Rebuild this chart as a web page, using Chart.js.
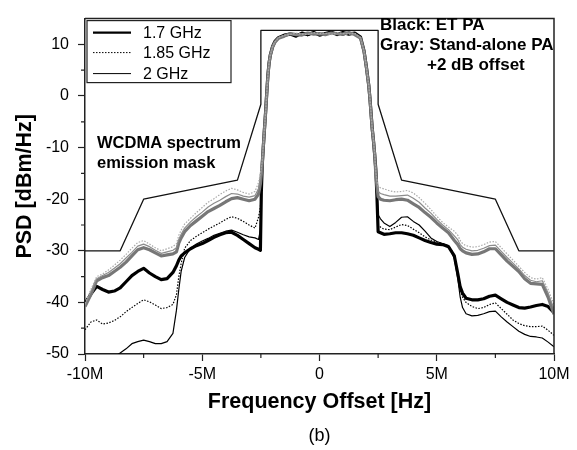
<!DOCTYPE html>
<html>
<head>
<meta charset="utf-8">
<script src="https://cdn.jsdelivr.net/npm/chart.js@4/dist/chart.umd.min.js"></script>
<style>
html,body{margin:0;padding:0;background:#fff;}
#wrap{width:577px;height:450px;}
</style>
</head>
<body>
<div id="wrap"><canvas id="c" width="577" height="450"></canvas></div>
<script>
// Frequency offset in MHz
const freq = [-10,-9.75,-9.5,-9.25,-9,-8.75,-8.5,-8.25,-8,-7.75,-7.5,-7.25,-7,-6.75,-6.5,-6.25,
  -6.1,-6,-5.9,
  -5.75,-5.5,-5.25,-5,-4.75,-4.5,-4.25,-4,-3.75,-3.5,-3.25,-3,-2.75,
  -2.6,-2.52,-2.48,-2.44,-2.4,-2.35,-2.3,-2.25,-2.2,-2.15,-2.1,
  -2,-1.9,
  -1.75,-1.5,-1.25,-1,-0.75,-0.5,-0.25,0,0.25,0.5,0.75,1,1.25,1.5,1.75,
  1.9,2,2.1,2.15,2.2,2.25,2.3,2.35,2.4,2.45,2.5,2.6,
  2.75,3,3.25,3.5,3.75,4,4.25,4.5,4.75,5,5.25,5.5,5.75,
  5.9,6,6.1,
  6.25,6.5,6.75,7,7.25,7.5,7.75,8,8.25,8.5,8.75,9,9.25,9.5,9.75,10];

// ET PA (black), PSD in dBm/Hz
const et17 = [-40.2,-38.4,-36.9,-37.5,-38.0,-37.8,-37.2,-36.0,-34.8,-34.0,-33.4,-34.3,-35.0,-35.6,-35.4,-34.2,
  -32.9,-31.8,-31.0,
  -30.4,-29.6,-29.0,-28.6,-28.0,-27.4,-26.9,-26.5,-26.4,-27.0,-27.8,-28.6,-29.4,
  -29.7,-29.9,-18.5,-13.2,-10.2,-6.6,-3.2,0.6,4.1,6.4,7.9,
  9.6,10.6,
  11.3,11.8,12.0,11.6,12.2,11.9,12.3,11.8,12.1,12.4,11.9,12.3,12.0,12.2,11.4,
  8.7,5.6,2.1,-0.4,-3.4,-6.4,-8.6,-11.2,-14.1,-19.5,-26.3,-26.5,
  -26.8,-26.7,-26.5,-26.5,-26.7,-27.0,-27.5,-28.0,-28.4,-28.7,-28.8,-29.2,-31.0,
  -34.5,-37.0,-38.2,
  -39.2,-39.5,-39.5,-39.3,-38.8,-38.6,-39.3,-40.0,-40.5,-41.0,-41.1,-40.9,-40.6,-40.4,-40.8,-42.0];

const et185 = [-45.3,-43.8,-43.4,-44.2,-44.0,-43.5,-42.8,-41.8,-41.0,-40.2,-39.5,-39.9,-40.5,-41.2,-41.0,-40.4,
  -38.5,-35.0,-32.5,
  -29.5,-28.0,-27.2,-26.5,-25.8,-25.2,-24.6,-23.9,-23.4,-23.7,-24.3,-25.0,-25.6,
  -23.5,-21.5,-18.2,-13.0,-10.1,-6.4,-3.4,0.4,4.0,6.6,7.8,
  9.5,10.5,
  11.4,11.7,12.1,11.8,12.0,12.2,12.1,11.9,12.3,12.1,12.0,12.2,12.1,11.9,11.3,
  8.6,5.5,2.0,-0.5,-3.5,-6.5,-8.5,-11.0,-14.0,-19.0,-25.0,-25.4,
  -25.8,-25.9,-25.4,-24.9,-25.1,-25.8,-26.5,-27.3,-27.9,-28.3,-28.6,-29.0,-30.8,
  -34.5,-37.5,-39.0,
  -40.0,-40.8,-41.2,-41.0,-40.4,-40.1,-41.2,-42.3,-43.4,-44.1,-44.5,-44.7,-44.7,-44.6,-45.4,-46.4];

const et20 = [-54.0,-53.5,-53.0,-52.4,-51.6,-50.6,-49.8,-49.0,-48.0,-47.6,-47.3,-47.6,-48.0,-48.0,-47.6,-46.0,
  -41.5,-37.5,-34.0,
  -31.3,-29.5,-28.7,-28.1,-27.6,-27.0,-26.6,-26.2,-26.0,-26.4,-26.9,-27.3,-27.5,
  -27.8,-26.0,-18.0,-13.1,-10.0,-6.5,-3.3,0.5,3.9,6.5,7.8,
  9.4,10.5,
  11.2,11.9,11.8,12.0,12.1,11.7,12.2,12.0,11.9,12.3,12.1,11.8,12.2,12.0,11.2,
  8.5,5.4,2.0,-0.6,-3.6,-6.6,-8.6,-11.1,-14.0,-18.5,-23.0,-23.8,
  -24.6,-25.3,-24.5,-23.5,-23.4,-24.3,-25.0,-26.2,-27.5,-28.2,-28.6,-29.0,-31.5,
  -35.5,-39.0,-41.0,
  -42.2,-42.6,-42.5,-42.2,-41.8,-41.7,-42.8,-43.8,-44.7,-45.6,-46.2,-46.6,-46.7,-46.9,-47.7,-48.6];

// Stand-alone PA +2 dB offset (gray)
const sa17 = [-40.8,-38.5,-35.8,-35.2,-34.8,-34.0,-33.2,-32.2,-31.0,-29.8,-29.4,-29.8,-30.4,-31.0,-30.8,-30.6,
  -30.2,-28.5,-27.5,
  -26.3,-25.1,-24.2,-23.3,-22.4,-21.8,-21.2,-20.5,-19.9,-19.7,-20.0,-20.3,-20.0,
  -19.0,-17.0,-15.2,-13.0,-10.0,-6.6,-3.4,0.4,3.9,6.4,7.8,
  9.5,10.4,
  11.2,11.6,12.1,11.9,11.8,12.2,12.0,12.1,11.9,12.2,12.1,12.0,12.3,11.9,11.2,
  8.6,5.5,2.0,-0.5,-3.5,-6.5,-8.6,-11.1,-15.0,-17.5,-19.5,-20.0,
  -20.2,-20.3,-20.1,-20.0,-20.2,-20.9,-21.6,-22.6,-23.5,-24.6,-25.6,-26.5,-28.0,
  -28.8,-29.6,-30.0,
  -30.4,-30.7,-30.6,-30.2,-29.6,-29.6,-30.8,-32.0,-33.0,-34.0,-35.4,-36.3,-36.4,-36.5,-39.0,-42.3];

const sa185 = [-40.2,-37.5,-35.0,-34.5,-33.7,-32.8,-31.8,-30.7,-29.5,-28.4,-28.0,-28.7,-29.4,-30.0,-29.6,-29.2,
  -28.6,-27.0,-26.0,
  -24.8,-23.7,-22.6,-21.6,-20.6,-19.9,-19.1,-18.4,-17.9,-18.2,-18.7,-19.0,-18.5,
  -16.8,-15.0,-14.0,-12.5,-9.8,-6.4,-3.2,0.6,4.0,6.5,7.9,
  9.6,10.5,
  11.3,11.8,11.9,12.2,12.0,11.9,12.3,12.1,12.2,11.9,12.3,12.1,12.0,12.2,11.3,
  8.7,5.6,2.1,-0.4,-3.4,-6.4,-8.5,-11.0,-14.6,-16.5,-17.5,-17.8,
  -18.0,-18.4,-18.6,-18.5,-18.3,-18.8,-19.7,-20.8,-22.0,-23.3,-24.5,-25.4,-26.2,
  -27.0,-28.0,-28.6,
  -29.0,-29.3,-29.2,-28.8,-28.3,-28.2,-29.4,-30.6,-31.8,-33.0,-34.2,-35.2,-35.5,-35.2,-37.5,-40.4];

const sa20 = [-40.5,-37.9,-35.4,-34.8,-34.2,-33.4,-32.5,-31.4,-30.3,-29.1,-28.7,-29.2,-29.9,-30.5,-30.2,-29.9,
  -29.4,-27.8,-26.8,
  -25.6,-24.4,-23.4,-22.5,-21.5,-20.8,-20.2,-19.5,-18.9,-19.0,-19.4,-19.6,-19.3,
  -18.0,-16.0,-14.6,-12.8,-9.9,-6.5,-3.3,0.5,3.9,6.4,7.8,
  9.5,10.5,
  11.3,11.7,12.0,11.8,12.1,12.0,12.2,11.9,12.1,12.2,12.0,12.1,12.2,12.0,11.2,
  8.6,5.5,2.0,-0.5,-3.5,-6.5,-8.5,-11.0,-14.8,-17.0,-18.5,-18.9,
  -19.1,-19.4,-19.4,-19.3,-19.2,-19.8,-20.6,-21.7,-22.7,-23.9,-25.0,-25.9,-27.1,
  -27.9,-28.8,-29.3,
  -29.7,-30.0,-29.9,-29.5,-29.0,-28.9,-30.1,-31.3,-32.4,-33.5,-34.8,-35.7,-36.0,-35.8,-38.2,-41.3];

// WCDMA spectrum emission mask
const maskFreq  = [-10,-8.5,-7.5,-3.5,-2.5,-2.5,2.5,2.5,3.5,7.5,8.5,10];
const maskLevel = [-30,-30,-20,-16.3,-1.6,12.7,12.7,-1.6,-16.3,-20,-30,-30];

const legendLabels = ['1.7 GHz','1.85 GHz','2 GHz'];
const xTitle = 'Frequency Offset [Hz]';
const yTitle = 'PSD [dBm/Hz]';
const maskNote = ['WCDMA spectrum','emission mask'];
const colorNote = ['Black: ET PA','Gray: Stand-alone PA','+2 dB offset'];
const caption = '(b)';

const FONT = '"Liberation Sans", Arial, Helvetica, sans-serif';
const pts = arr => freq.map((f, i) => ({x: f, y: arr[i]}));

const datasets = [
  {label: 'mask', data: maskFreq.map((f,i)=>({x:f,y:maskLevel[i]})), borderColor:'#111', borderWidth:1.3, order:0},
  {label: 'SA 1.85 GHz', data: pts(sa185), borderColor:'#a9a9a9', borderWidth:1.2, borderDash:[1.5,1.5], order:1},
  {label: 'SA 2 GHz', data: pts(sa20), borderColor:'#8c8c8c', borderWidth:1.2, order:2},
  {label: 'SA 1.7 GHz', data: pts(sa17), borderColor:'#777', borderWidth:3.2, order:3},
  {label: legendLabels[0], data: pts(et17), borderColor:'#000', borderWidth:3.2, order:4, legend:true},
  {label: legendLabels[1], data: pts(et185), borderColor:'#000', borderWidth:1.2, borderDash:[1.5,1.5], order:5, legend:true},
  {label: legendLabels[2], data: pts(et20), borderColor:'#000', borderWidth:1.2, order:6, legend:true}
];
datasets.forEach(d => { d.pointRadius = 0; d.fill = false; d.tension = 0; d.borderJoinStyle = 'round'; });

const decor = {
  id: 'decor',
  afterDraw(chart) {
    const ctx = chart.ctx, a = chart.chartArea;
    const xs = chart.scales.x, ys = chart.scales.y;
    ctx.save();
    // frame top & right
    ctx.strokeStyle = '#222'; ctx.lineWidth = 1.5;
    ctx.beginPath();
    ctx.moveTo(a.left, a.top); ctx.lineTo(a.right, a.top); ctx.lineTo(a.right, a.bottom);
    ctx.stroke();
    // minor ticks
    ctx.lineWidth = 1.2;
    ctx.beginPath();
    for (let v = xs.min + 2.5; v < xs.max; v += 5) {
      const p = xs.getPixelForValue(v);
      ctx.moveTo(p, a.bottom); ctx.lineTo(p, a.bottom + 4);
    }
    for (let v = ys.min + 5; v < ys.max; v += 10) {
      const p = ys.getPixelForValue(v);
      ctx.moveTo(a.left - 4, p); ctx.lineTo(a.left, p);
    }
    ctx.stroke();
    // legend box
    const lx = a.left + 2, ly = a.top + 2, lw = 144, lh = 62;
    ctx.fillStyle = '#fff';
    ctx.fillRect(lx, ly, lw, lh);
    ctx.strokeStyle = '#222'; ctx.lineWidth = 1.2;
    ctx.strokeRect(lx, ly, lw, lh);
    const rows = [12, 32, 53];
    chart.data.datasets.filter(d => d.legend).forEach((d, i) => {
      const y = ly + rows[i];
      ctx.save();
      ctx.strokeStyle = d.borderColor;
      ctx.lineWidth = d.borderWidth > 2 ? 2.2 : 1;
      ctx.setLineDash(d.borderDash || []);
      ctx.beginPath(); ctx.moveTo(lx + 6, y); ctx.lineTo(lx + 44, y); ctx.stroke();
      ctx.restore();
      ctx.fillStyle = '#000';
      ctx.font = '16px ' + FONT;
      ctx.textBaseline = 'middle';
      ctx.textAlign = 'left';
      ctx.fillText(d.label, lx + 56, y + 1);
    });
    // annotations
    ctx.fillStyle = '#000';
    ctx.textBaseline = 'alphabetic';
    ctx.textAlign = 'left';
    ctx.font = 'bold 16.5px ' + FONT;
    ctx.fillText(maskNote[0], 97, 148);
    ctx.fillText(maskNote[1], 97, 168);
    ctx.font = 'bold 17px ' + FONT;
    ctx.fillText(colorNote[0], 380, 30);
    ctx.fillText(colorNote[1], 380, 50);
    ctx.fillText(colorNote[2], 427, 70);
    // caption
    ctx.font = '18px ' + FONT;
    ctx.textAlign = 'center';
    ctx.textBaseline = 'middle';
    ctx.fillText(caption, (a.left + a.right) / 2, 436);
    ctx.restore();
  }
};

new Chart(document.getElementById('c'), {
  type: 'line',
  data: {datasets},
  options: {
    responsive: false,
    animation: false,
    devicePixelRatio: 1,
    layout: {padding: {top: 10, right: 23, left: 0, bottom: 0}},
    plugins: {legend: {display: false}, tooltip: {enabled: false}},
    scales: {
      x: {
        type: 'linear', min: -10, max: 10,
        afterFit: s => { s.height = 96; },
        border: {color: '#222', width: 1.5},
        grid: {drawOnChartArea: false, tickLength: 7, tickColor: '#222', tickWidth: 1.2},
        ticks: {stepSize: 5, color: '#000', padding: 4, font: {family: FONT, size: 16},
          maxRotation: 0, includeBounds: false,
          callback: v => v === 0 ? '0' : v + 'M'},
        title: {display: true, text: xTitle, color: '#000', font: {family: FONT, size: 21.5, weight: 'bold'},
          padding: {top: 0, bottom: 35}}
      },
      y: {
        type: 'linear', min: -50, max: 15,
        afterFit: s => { s.width = 85; },
        border: {color: '#222', width: 1.5},
        grid: {drawOnChartArea: false, tickLength: 7, tickColor: '#222', tickWidth: 1.2},
        ticks: {stepSize: 10, color: '#000', padding: 9, font: {family: FONT, size: 16}, includeBounds: false},
        title: {display: true, text: yTitle, color: '#000', font: {family: FONT, size: 21.5, weight: 'bold'},
          padding: {top: 12, bottom: 0}}
      }
    }
  },
  plugins: [decor]
});
</script>
</body>
</html>
